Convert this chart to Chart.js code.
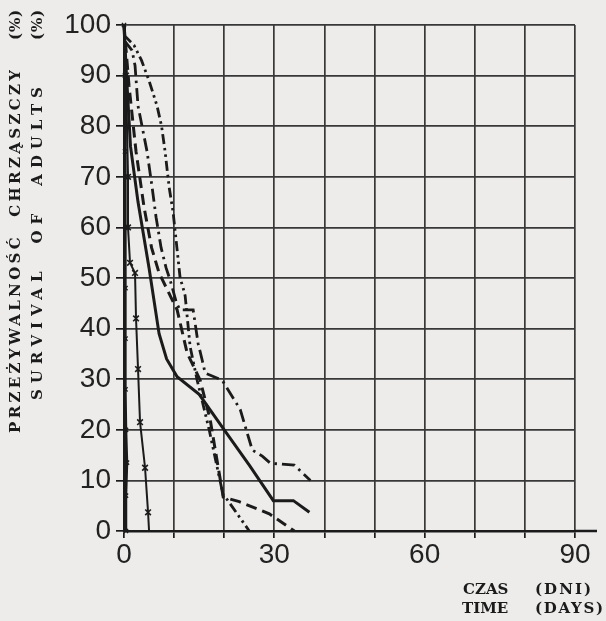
<!DOCTYPE html>
<html>
<head>
<meta charset="utf-8">
<script src="https://cdn.jsdelivr.net/npm/chart.js@4"></script>
<style>
  html, body { margin: 0; padding: 0; background: #edeceb; }
  #wrap { width: 606px; height: 621px; }
</style>
</head>
<body>
<div id="wrap"><canvas id="survival"></canvas></div>
<script>
// time axis (days) and survival (%)
const xTicks = [0, 30, 60, 90];
const yTicks = [0, 10, 20, 30, 40, 50, 60, 70, 80, 90, 100];

const axisCrossDays = [0, 0.2, 0.2, 0.3, 0.3, 0.3, 0.3, 0.4, 0.6, 0.4, 0.4];
const axisCrossSurv = [100, 90, 75, 60, 48, 38, 28, 20, 13.5, 7, 0];

const crossDays = [0, 0.4, 0.6, 0.8, 0.8, 1.2, 2.2, 2.4, 2.8, 3.2, 4.2, 4.8, 5];
const crossSurv = [100, 90, 80, 70, 60, 53, 51, 42, 32, 21.5, 12.5, 3.7, 0];

const solidDays = [0, 0.5, 1.3, 2.8, 5, 7, 8.5, 10.6, 15, 20, 25, 29.8, 33.8, 37];
const solidSurv = [100, 90, 76, 65, 52, 39, 34, 30.5, 27, 20, 13, 6, 6, 3.7];

const dashedDays = [0, 1, 2.4, 4, 5.5, 7, 10.6, 12.6, 15.2, 17.2, 19.8, 23, 29, 34];
const dashedSurv = [100, 88, 75, 64, 56, 51, 43.7, 35.2, 29.8, 22, 6.7, 5.8, 3.4, 0];

const dashDotDays = [0, 1.6, 2.2, 2.8, 3.6, 4.6, 5.6, 6.4, 7.4, 8.4, 9.2, 10.5, 11.2, 13.8, 14.8, 15.6, 16.2, 19.6, 23.2, 25.6, 27.6, 29.2, 34, 37.2];
const dashDotSurv = [97, 95, 92, 84, 80, 75, 68, 62, 56, 52, 49.6, 45, 43.7, 43.7, 37, 33.8, 31.2, 29.8, 24, 16, 14.8, 13.4, 13, 10];

const dotDays = [0, 2, 3.5, 5, 6.6, 7.5, 8.2, 9, 9.8, 11.2, 11.8, 12.2, 13.2, 14.6, 17, 19.8, 20.6, 25];
const dotSurv = [98, 96, 93, 89, 84, 80, 75, 68, 63, 50, 48, 46.5, 36.4, 29.8, 20, 7, 6.2, 0];

const yTitle = ['PRZEŻYWALNOŚĆ  CHRZĄSZCZY', 'SURVIVAL  OF  ADULTS'];
const xTitle = [['CZAS', '(DNI)'], ['TIME', '(DAYS)']];

const ink = '#1b1b1b';

function pts(xs, ys) {
  return xs.map((x, i) => ({ x: x, y: ys[i] }));
}

function series(xs, ys, dash, width) {
  return {
    data: pts(xs, ys),
    borderColor: ink,
    borderWidth: width,
    borderDash: dash,
    pointRadius: 0,
    fill: false,
    tension: 0,
    clip: false
  };
}

const crossSet = series(crossDays, crossSurv, [], 2);
crossSet.pointStyle = 'crossRot';
crossSet.pointRadius = crossDays.map((d, i) => (i === 0 || i === crossDays.length - 1) ? 0 : 4);
crossSet.pointBorderColor = ink;
crossSet.pointBorderWidth = 1.6;

const axisSet = series(axisCrossDays, axisCrossSurv, [], 2.5);
axisSet.pointStyle = 'crossRot';
axisSet.pointRadius = 3;
axisSet.pointBorderColor = ink;
axisSet.pointBorderWidth = 1.4;

const bgPlugin = {
  id: 'paper',
  beforeDraw(chart) {
    const ctx = chart.ctx;
    ctx.save();
    ctx.fillStyle = '#edeceb';
    ctx.fillRect(0, 0, chart.width, chart.height);
    ctx.restore();
  }
};

// spread letters so a word fills the span it has in the scan
function spreadText(ctx, txt, x, y, len, vertical) {
  ctx.save();
  ctx.letterSpacing = '0px';
  const w = ctx.measureText(txt).width;
  const n = [...txt].length;
  const sp = Math.max(0, (len - w) / Math.max(1, n - 1));
  ctx.letterSpacing = sp.toFixed(2) + 'px';
  ctx.translate(x, y);
  if (vertical) ctx.rotate(-Math.PI / 2);
  ctx.fillText(txt, 0, 0);
  ctx.restore();
}

const titlePlugin = {
  id: 'titles',
  afterDraw(chart) {
    const ctx = chart.ctx;
    const a = chart.chartArea;
    ctx.save();
    // x axis runs on a little past 90
    ctx.strokeStyle = ink;
    ctx.lineWidth = 2.5;
    ctx.beginPath();
    ctx.moveTo(a.right, a.bottom);
    ctx.lineTo(a.right + 22, a.bottom);
    ctx.stroke();

    ctx.fillStyle = ink;
    ctx.font = 'bold 15px "DejaVu Serif"';
    ctx.textBaseline = 'middle';
    ctx.textAlign = 'left';
    spreadText(ctx, yTitle[0], 16, 433, 363, true);
    spreadText(ctx, '(%)', 16, 40, 30, true);
    spreadText(ctx, yTitle[1], 38, 400, 313, true);
    spreadText(ctx, '(%)', 38, 40, 30, true);

    spreadText(ctx, xTitle[0][0], 463, 590, 44, false);
    spreadText(ctx, xTitle[0][1], 535, 590, 56, false);
    spreadText(ctx, xTitle[1][0], 462, 609, 46, false);
    spreadText(ctx, xTitle[1][1], 535, 609, 68, false);
    ctx.restore();
  }
};

new Chart(document.getElementById('survival'), {
  type: 'line',
  data: {
    datasets: [
      axisSet,
      crossSet,
      series(solidDays, solidSurv, [], 3),
      series(dashedDays, dashedSurv, [11, 6], 3),
      series(dashDotDays, dashDotSurv, [13, 5, 2.5, 5], 2.8),
      series(dotDays, dotSurv, [10, 4, 2.5, 4, 2.5, 4], 2.8)
    ]
  },
  options: {
    responsive: true,
    maintainAspectRatio: false,
    animation: false,
    layout: { padding: { top: 25, right: 31, left: 0, bottom: 0 } },
    plugins: {
      legend: { display: false },
      tooltip: { enabled: false }
    },
    scales: {
      x: {
        type: 'linear',
        min: 0,
        max: 90,
        afterFit(scale) { scale.height = 90; },
        afterBuildTicks(scale) {
          const t = [];
          for (let v = 0; v <= 90; v += 10) t.push({ value: v });
          scale.ticks = t;
        },
        ticks: {
          autoSkip: false,
          maxRotation: 0,
          padding: 0,
          color: '#222',
          font: { family: '"Liberation Sans", Arial, sans-serif', size: 28 },
          callback: (v) => xTicks.includes(v) ? String(v) : ''
        },
        grid: { color: '#383838', lineWidth: 1.7, tickLength: 7, tickColor: ink },
        border: { display: true, color: ink, width: 2.5 }
      },
      y: {
        min: 0,
        max: 100,
        afterFit(scale) { scale.width = 124; },
        afterBuildTicks(scale) {
          scale.ticks = yTicks.map(v => ({ value: v }));
        },
        ticks: {
          padding: 5,
          color: '#222',
          font: { family: '"Liberation Sans", Arial, sans-serif', size: 28 }
        },
        grid: { color: '#383838', lineWidth: 1.7, tickLength: 8, tickColor: ink },
        border: { display: true, color: ink, width: 3 }
      }
    }
  },
  plugins: [bgPlugin, titlePlugin]
});
</script>
</body>
</html>
